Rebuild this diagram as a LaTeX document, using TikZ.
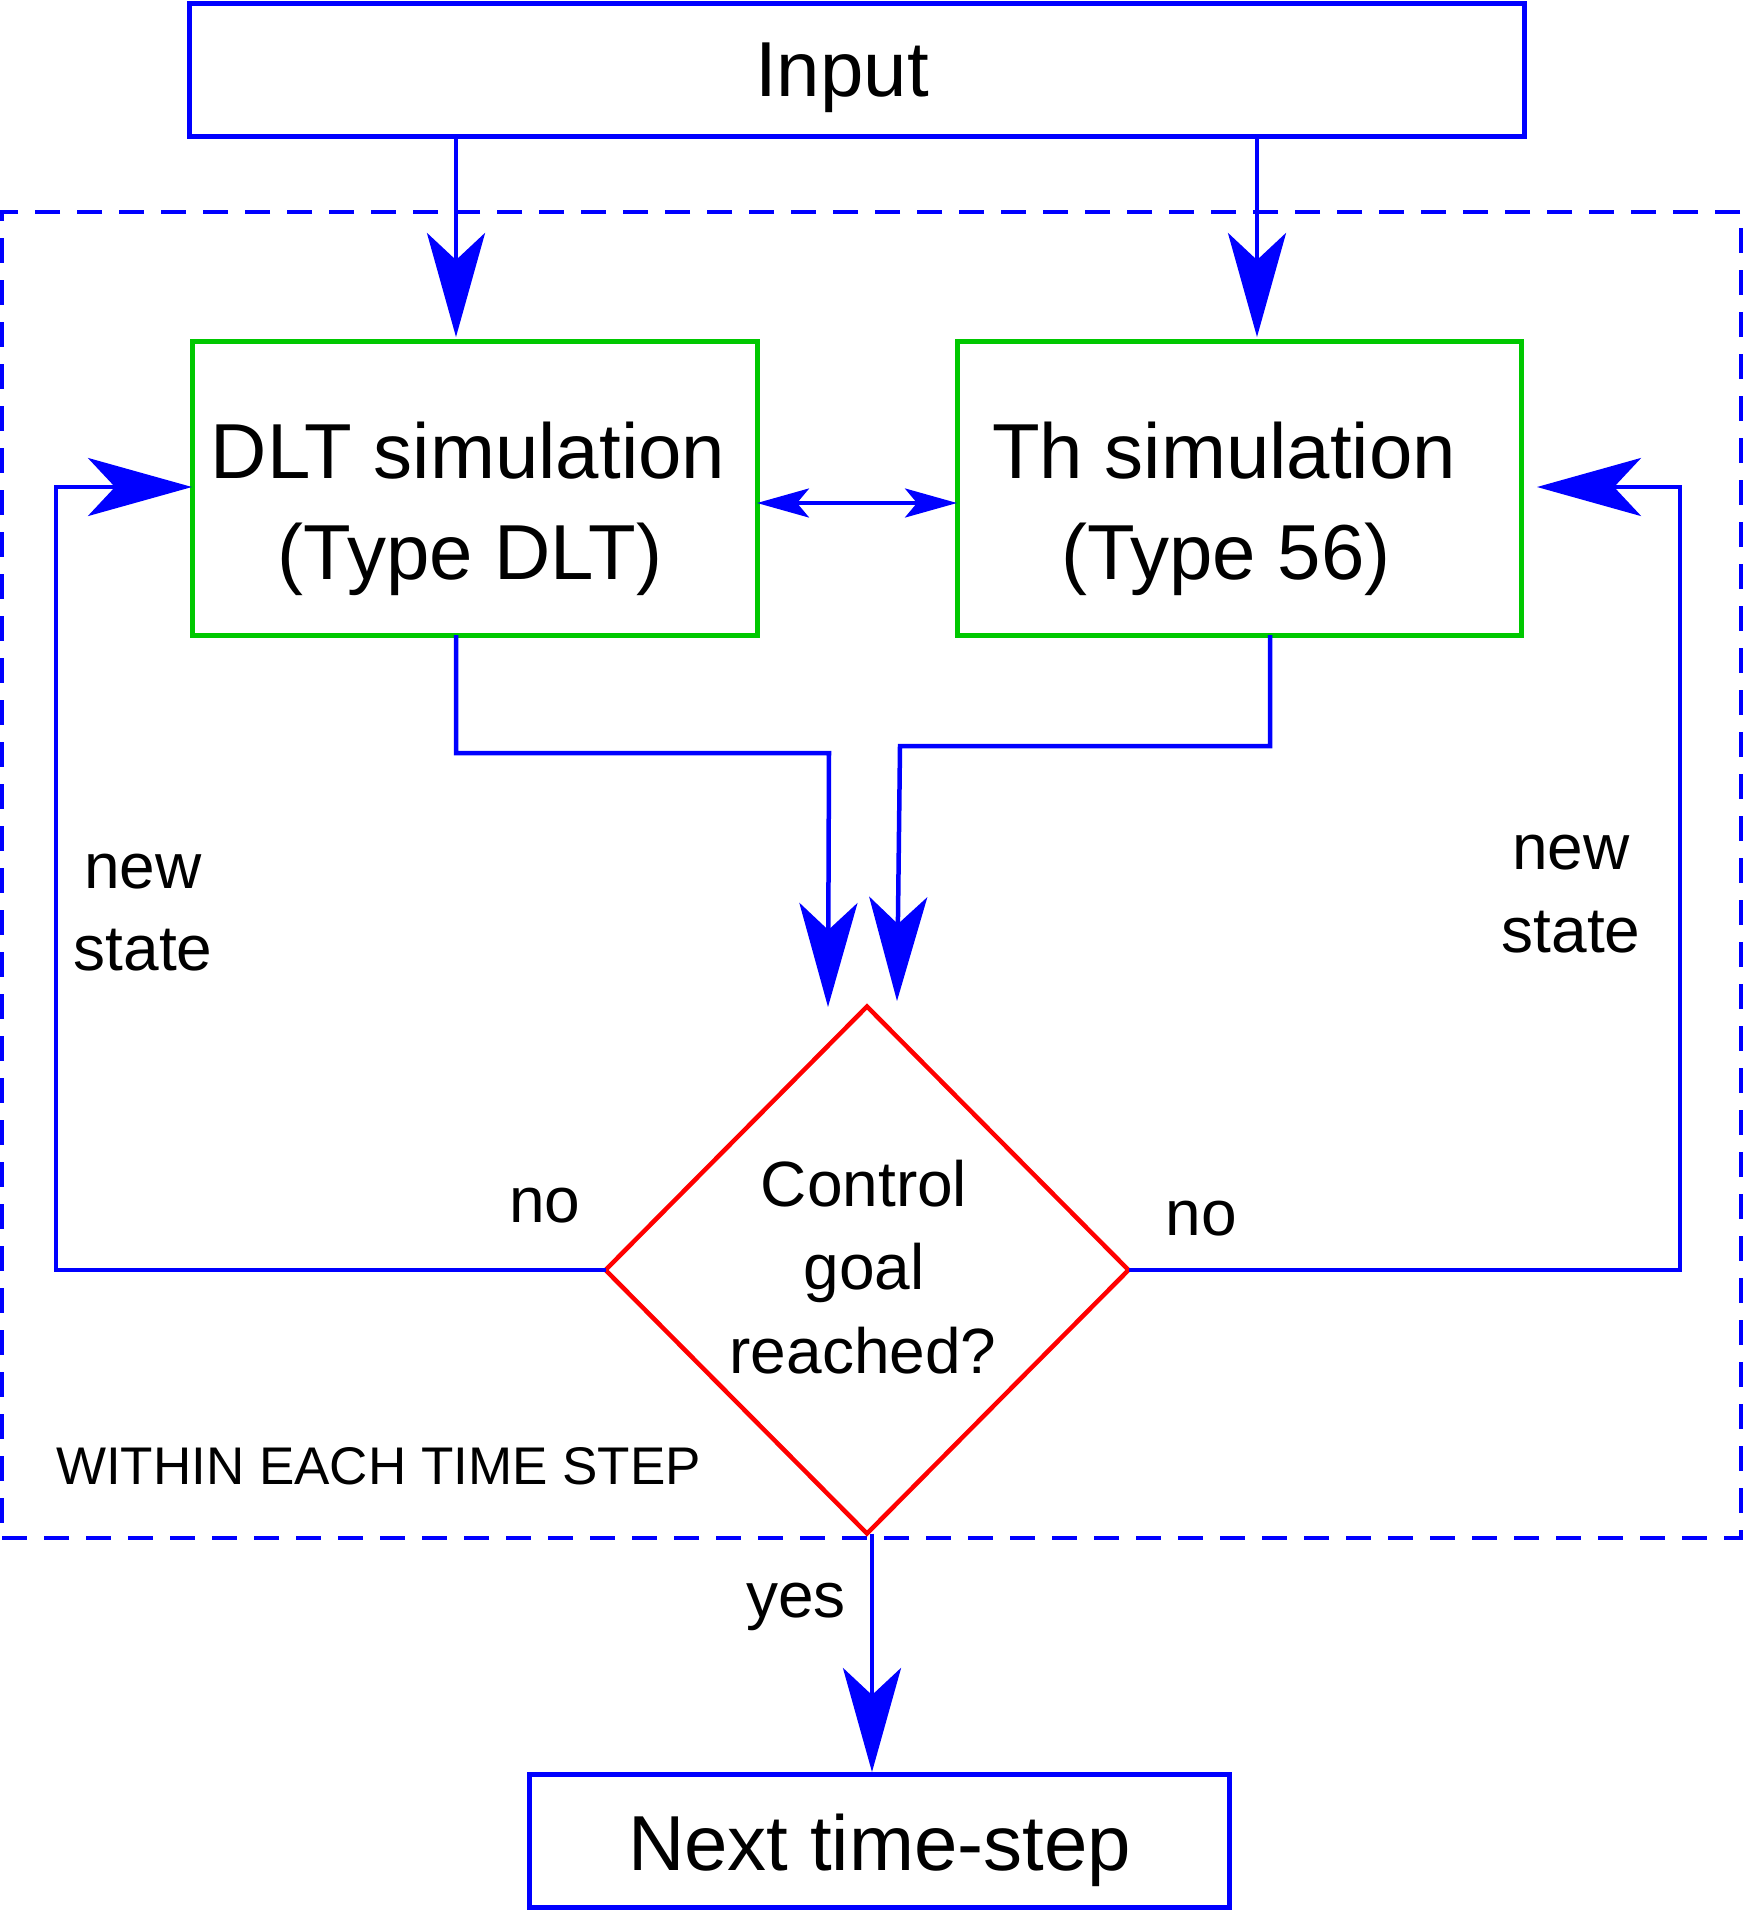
\documentclass[tikz,border=0pt]{standalone}
\usepackage{fontspec}
\setmainfont{Liberation Sans}
\usetikzlibrary{arrows.meta,shapes.geometric}
\definecolor{fblue}{RGB}{0,0,255}
\definecolor{fgreen}{RGB}{0,200,0}
\definecolor{fred}{RGB}{255,0,0}
\begin{document}
\begin{tikzpicture}[x=1pt,y=-1pt,
  bluebox/.style={draw=fblue,line width=5pt,rectangle,inner sep=0pt,outer sep=0pt},
  greenbox/.style={draw=fgreen,line width=5pt,rectangle,inner sep=0pt,outer sep=0pt,minimum width=565pt,minimum height=294pt},
  decide/.style={draw=fred,line width=4.5pt,diamond,inner sep=0pt,outer sep=0pt,minimum width=523pt,minimum height=527pt},
  groupframe/.style={draw=fblue,line width=3.5pt,dash pattern=on 25pt off 17pt,rectangle,inner sep=0pt,outer sep=0pt},
  conn/.style={draw=fblue,line width=4.5pt},
  bigarrow/.style={conn,-{Stealth[length=104pt,width=58pt,inset=27pt]}},
  smallarrows/.style={conn,line width=4pt,{Stealth[length=52pt,width=29pt,inset=12pt]}-{Stealth[length=52pt,width=29pt,inset=12pt]}},
  bigtxt/.style={font=\fontsize{78}{101}\selectfont,inner sep=0pt,anchor=base},
  midtxt/.style={font=\fontsize{64}{83}\selectfont,inner sep=0pt,anchor=base},
  smalltxt/.style={font=\fontsize{53}{64}\selectfont,inner sep=0pt,anchor=base west},
]
\useasboundingbox (0,0) rectangle (1744,1912);

% frame
\node[groupframe,minimum width=1739pt,minimum height=1326pt] (frame) at (871.5,875) {};

% boxes
\node[bluebox,minimum width=1335pt,minimum height=133pt] (input) at (856.5,69.5) {};
\node[greenbox] (dlt) at (474.5,488) {};
\node[greenbox,minimum width=564pt] (th) at (1239,488) {};
\node[decide] (ctrl) at (867,1270) {};
\node[bluebox,minimum width=700pt,minimum height=133pt] (next) at (879,1840.5) {};

% texts
\node[bigtxt] (inputtxt) at (842,96) {Input};
\node[bigtxt] (dltA) at (468,478) {DLT simulation};
\node[bigtxt] (dltB) at (470,579) {(Type DLT)};
\node[bigtxt] (thA) at (1224,478) {Th simulation};
\node[bigtxt] (thB) at (1226,579) {(Type 56)};
\node[bigtxt] (nexttxt) at (879.5,1870) {Next time-step};
\node[midtxt] (ctrlA) at (864,1206) {Control};
\node[midtxt] (ctrlB) at (864,1289) {goal};
\node[midtxt] (ctrlC) at (863,1373) {reached?};
\node[midtxt] (nsLA) at (143,888) {new};
\node[midtxt] (nsLB) at (143,970) {state};
\node[midtxt] (nsRA) at (1571,869) {new};
\node[midtxt] (nsRB) at (1571,952) {state};
\node[midtxt] (noL) at (545,1222) {no};
\node[midtxt] (noR) at (1201,1235) {no};
\node[midtxt] (yes) at (796,1617) {yes};
\node[smalltxt] (within) at (56,1484) {WITHIN EACH TIME STEP};

% helper coordinates
\coordinate (tA) at (456,337);
\coordinate (tB) at (1257,337);
\coordinate (mid) at (0,503);
\coordinate (jL) at (829,753);
\coordinate (tC) at (828,1007);
\coordinate (sTh) at (1270,630);
\coordinate (jR) at (900,746);
\coordinate (tD) at (897,1001);
\coordinate (cL) at (56,487);
\coordinate (cR) at (1680,487);
\coordinate (tE) at (1537,487);
\coordinate (tF) at (872,1772);

% connectors
\draw[bigarrow] (input.south -| tA) -- (tA);
\draw[bigarrow] (input.south -| tB) -- (tB);
\draw[smallarrows] (dlt.east |- mid) -- (th.west |- mid);
\draw[bigarrow] (dlt.south -| tA) |- (jL) -- (tC);
\draw[bigarrow] (th.south -| sTh) |- (jR) -- (tD);
\draw[bigarrow] (ctrl.west) -| (cL) -- (dlt.west |- cL);
\draw[bigarrow] (ctrl.east) -| (cR) -- (tE);
\draw[bigarrow] (ctrl.south -| tF) -- (tF);
\end{tikzpicture}
\end{document}
